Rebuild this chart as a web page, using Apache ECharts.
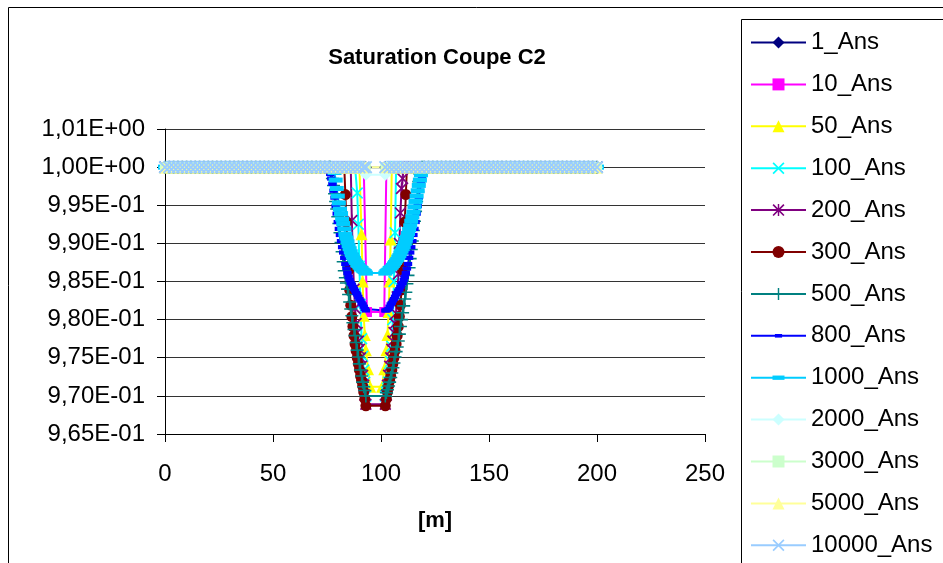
<!DOCTYPE html>
<html><head><meta charset="utf-8">
<script src="https://cdn.jsdelivr.net/npm/echarts@6/dist/echarts.min.js"></script>
<style>html,body{margin:0;padding:0;background:#fff}#c{width:943px;height:563px}</style>
</head><body><div id="c"></div>
<script>
const FONT = '"Liberation Sans", Arial, Helvetica, sans-serif';
const SAT_FULL = 1.0;
const Y_MIN = 0.965, Y_MAX = 1.005, Y_STEP = 0.005;
const X_MIN = 0, X_MAX = 250, X_STEP = 50;
const yTickLabels = ['9,65E-01','9,70E-01','9,75E-01','9,80E-01','9,85E-01','9,90E-01','9,95E-01','1,00E+00','1,01E+00'];
const seriesNames = ['1_Ans','10_Ans','50_Ans','100_Ans','200_Ans','300_Ans','500_Ans','800_Ans','1000_Ans','2000_Ans','3000_Ans','5000_Ans','10000_Ans'];

// x positions of the section where saturation is full (1.0)
const flatX = [0,2,4,6,8,10,12,14,16,18,20,22,24,26,28,30,32,34,36,38,40,42,44,46,48,50,52,54,56,58,60,62,64,66,68,70,72,74,76,78,80,82,84,86,88,90,92,93,
  102,104,106,108,110,112,114,116,118,120,122,124,126,128,130,132,134,136,138,140,142,144,146,148,150,152,154,156,158,160,162,164,166,168,170,172,174,176,178,180,182,184,186,188,190,192,194,196,198,200];

// desaturated zone values [x, saturation]
const v10 = [[92.5,1],[93.5,0.9810],[101.5,0.9810],[102.5,1]];
const v50 = [[90.5,1],[91,0.9912],[91.5,0.9850],[92,0.9805],[92.5,0.9780],[93,0.9760],[94,0.9735],[95,0.9712],
  [100.5,0.9712],[101.5,0.9735],[102.5,0.9760],[103,0.9780],[103.5,0.9810],[104,0.9850],[104.5,0.9905],[105,1]];
const v100 = [[88.5,1],[89,0.9966],[89.5,0.9925],[90,0.9870],[90.5,0.9820],[91,0.9775],[91.5,0.9752],[92,0.9734],[92.5,0.9718],[93,0.9700],
  [102,0.9700],[102.5,0.9705],[103,0.9710],[103.5,0.9718],[104,0.9730],[104.5,0.9745],[105,0.9765],[105.5,0.9800],[106,0.9850],[106.5,0.9914],[107,1]];
const v200 = [[86,1],[86.5,0.9930],[87,0.9880],[87.5,0.9840],[88,0.9815],[88.5,0.9795],[89,0.9783],[89.5,0.9772],[90,0.9761],[90.5,0.9750],[91,0.9739],[91.5,0.9727],[92,0.9714],[92.5,0.9701],[93,0.9689],
  [102,0.9689],[102.5,0.9701],[103,0.9714],[103.5,0.9727],[104,0.9739],[104.5,0.9750],[105,0.9761],[105.5,0.9772],[106,0.9783],[106.5,0.9795],[107,0.9808],[107.5,0.9830],[108,0.9860],[108.5,0.9900],[109,0.9940],[109.5,0.9972],[110,0.9985],[110.5,1]];
const v300 = [[83,1],[83.5,0.9964],[84,0.9928],[84.5,0.9894],[85,0.9865],[85.5,0.9839],[86,0.9819],[86.5,0.9804],[87,0.9791],[87.5,0.9779],[88,0.9768],[88.5,0.9759],[89,0.9750],[89.5,0.9742],[90,0.9734],[90.5,0.9726],[91,0.9720],[91.5,0.9713],[92,0.9705],[92.5,0.9696],[93,0.9687],
  [102,0.9687],[102.5,0.9696],[103,0.9705],[103.5,0.9713],[104,0.9720],[104.5,0.9726],[105,0.9734],[105.5,0.9742],[106,0.9750],[106.5,0.9759],[107,0.9768],[107.5,0.9779],[108,0.9791],[108.5,0.9804],[109,0.9819],[109.5,0.9839],[110,0.9865],[110.5,0.9894],[111,0.9928],[111.5,0.9964],[112,1]];
const v500 = [[76.5,1],[77,0.9995],[77.5,0.9985],[78,0.9976],[78.5,0.9965],[79,0.9955],[79.5,0.9945],[80,0.9935],[80.5,0.9926],[81,0.9914],[81.5,0.9901],[82,0.9889],[82.5,0.9876],[83,0.9864],[83.5,0.9855],[84,0.9848],[84.5,0.9840],[85,0.9833],[85.5,0.9823],[86,0.9814],[86.5,0.9805],[87,0.9796],[87.5,0.9787],[88,0.9779],[88.5,0.9770],[89,0.9760],[89.5,0.9751],[90,0.9742],[90.5,0.9734],[91,0.9726],[91.5,0.9718],[92,0.9712],[92.5,0.9707],[93,0.9700],
  [102,0.9700],[102.5,0.9704],[103,0.9708],[103.5,0.9713],[104,0.9718],[104.5,0.9724],[105,0.9730],[105.5,0.9737],[106,0.9743],[106.5,0.9751],[107,0.9758],[107.5,0.9764],[108,0.9772],[108.5,0.9781],[109,0.9791],[109.5,0.9800],[110,0.9809],[110.5,0.9818],[111,0.9827],[111.5,0.9836],[112,0.9847],[112.5,0.9858],[113,0.9868],[113.5,0.9880],[114,0.9892],[114.5,0.9903],[115,0.9917],[115.5,0.9929],[116,0.9942],[116.5,0.9955],[117,0.9968],[117.5,0.9981],[118,0.9991],[118.5,0.9998],[119,1]];
const v800 = [[75,1],[76,0.9997],[76.5,0.9991],[77,0.9985],[77.5,0.9978],[78,0.9969],[78.5,0.9960],[79,0.9949],[79.5,0.9939],[80,0.9928],[80.5,0.9919],[81,0.9911],[81.5,0.9903],[82,0.9895],[82.5,0.9888],[83,0.9881],[83.5,0.9873],[84,0.9867],[84.5,0.9861],[85,0.9856],[85.5,0.9852],[86,0.9848],[86.5,0.9846],[87,0.9843],[87.5,0.9840],[88,0.9838],[88.5,0.9835],[89,0.9833],[89.5,0.9830],[90,0.9827],[90.5,0.9825],[91,0.9822],[91.5,0.9820],[92,0.9817],[92.5,0.9814],[93,0.9812],
  [102,0.9812],[102.5,0.9812],[103,0.9813],[103.5,0.9814],[104,0.9817],[104.5,0.9820],[105,0.9822],[105.5,0.9825],[106,0.9827],[106.5,0.9830],[107,0.9833],[107.5,0.9835],[108,0.9838],[108.5,0.9840],[109,0.9843],[109.5,0.9846],[110,0.9848],[110.5,0.9852],[111,0.9856],[111.5,0.9861],[112,0.9867],[112.5,0.9873],[113,0.9881],[113.5,0.9888],[114,0.9895],[114.5,0.9903],[115,0.9911],[115.5,0.9919],[116,0.9928],[116.5,0.9939],[117,0.9949],[117.5,0.9960],[118,0.9969],[118.5,0.9978],[119,0.9985],[120,1]];
const v1000 = [[77.5,1],[78,0.9998],[78.5,0.9993],[79,0.9983],[79.5,0.9972],[80,0.9962],[80.5,0.9953],[81,0.9945],[81.5,0.9939],[82,0.9932],[82.5,0.9926],[83,0.9919],[83.5,0.9912],[84,0.9907],[84.5,0.9902],[85,0.9897],[85.5,0.9893],[86,0.9889],[86.5,0.9885],[87,0.9882],[87.5,0.9880],[88,0.9877],[88.5,0.9875],[89,0.9872],[89.5,0.9871],[90,0.9869],[90.5,0.9868],[91,0.9867],[91.5,0.9865],[92,0.9864],[92.5,0.9863],[93,0.9861],
  [102,0.9861],[102.5,0.9863],[103,0.9864],[103.5,0.9865],[104,0.9867],[104.5,0.9868],[105,0.9869],[105.5,0.9871],[106,0.9873],[106.5,0.9875],[107,0.9877],[107.5,0.9879],[108,0.9882],[108.5,0.9884],[109,0.9887],[109.5,0.9890],[110,0.9893],[110.5,0.9896],[111,0.9900],[111.5,0.9904],[112,0.9908],[112.5,0.9913],[113,0.9918],[113.5,0.9923],[114,0.9929],[114.5,0.9935],[115,0.9941],[115.5,0.9948],[116,0.9955],[116.5,0.9962],[117,0.9969],[117.5,0.9976],[118,0.9983],[118.5,0.9990],[119,0.9995],[120,1]];
const v2000 = [[92,1],[93,0.9990],[102,0.9990],[102.5,1]];
const GAP_10000 = 97.5; // no 10000_Ans points in the centre of the section

const SYM_X = 'path://M0,1L1,0L10,9L9,10ZM9,0L10,1L1,10L0,9Z';
const SYM_STAR = 'path://M0,1L1,0L10,9L9,10ZM9,0L10,1L1,10L0,9ZM4.4,0L5.6,0L5.6,10L4.4,10Z';
const SYM_PLUS = 'path://M0,4.4L10,4.4L10,5.6L0,5.6ZM4.4,0L5.6,0L5.6,10L4.4,10Z';
const SYM_DASH_S = 'path://M0,0L0,0M2,3.5L8,3.5L8,6.5L2,6.5ZM10,10L10,10';
const SYM_DASH_L = 'path://M0,0L0,0M0,3.2L10,3.2L10,6.8L0,6.8ZM10,10L10,10';

const styles = {
  '1_Ans':     {color:'#000080', symbol:'diamond', size:12, v:null},
  '10_Ans':    {color:'#FF00FF', symbol:'rect', size:10, v:v10},
  '50_Ans':    {color:'#FFFF00', symbol:'triangle', size:12, v:v50},
  '100_Ans':   {color:'#00FFFF', symbol:SYM_X, size:12, v:v100},
  '200_Ans':   {color:'#800080', symbol:SYM_STAR, size:12, v:v200},
  '300_Ans':   {color:'#800000', symbol:'circle', size:11, v:v300},
  '500_Ans':   {color:'#008080', symbol:SYM_PLUS, size:13, v:v500},
  '800_Ans':   {color:'#0000FF', symbol:SYM_DASH_S, size:14, v:v800},
  '1000_Ans':  {color:'#00CCFF', symbol:SYM_DASH_L, size:14, v:v1000},
  '2000_Ans':  {color:'#CCFFFF', symbol:'diamond', size:12, v:v2000},
  '3000_Ans':  {color:'#CCFFCC', symbol:'rect', size:10, v:null},
  '5000_Ans':  {color:'#FFFF99', symbol:'triangle', size:12, v:null},
  '10000_Ans': {color:'#99CCFF', symbol:SYM_X, size:13, v:null, band:true}
};

function build(v, band) {
  if (!v) {
    const pts = [];
    flatX.forEach(x => {
      if (band && x > GAP_10000 && pts.length && pts[pts.length-1][0] < GAP_10000) pts.push([GAP_10000, '-']);
      pts.push([x, SAT_FULL]);
    });
    return pts;
  }
  const x0 = v[0][0], x1 = v[v.length-1][0];
  return flatX.filter(x => x < x0).map(x => [x, SAT_FULL])
    .concat(v)
    .concat(flatX.filter(x => x > x1).map(x => [x, SAT_FULL]));
}

const series = seriesNames.map(name => {
  const s = styles[name];
  return {
    name, type:'line', data: build(s.v, s.band),
    symbol: s.symbol, symbolSize: s.size, showSymbol:true, clip:false,
    lineStyle:{color:s.color, width: s.band ? 13 : 2},
    itemStyle:{color:s.color, borderWidth:0},
    emphasis:{disabled:true}, animation:false
  };
});

const chart = echarts.init(document.getElementById('c'));
chart.setOption({
  animation:false,
  backgroundColor:'#fff',
  textStyle:{fontFamily:FONT},
  grid:{left:165, top:129, width:540, height:305, containLabel:false, outerBoundsMode:'none'},
  xAxis:{type:'value', min:X_MIN, max:X_MAX, interval:X_STEP,
    name:'[m]', nameLocation:'middle', nameGap:76,
    nameTextStyle:{fontFamily:FONT, fontSize:22, fontWeight:'bold', color:'#000'},
    axisLine:{show:true, onZero:false, lineStyle:{color:'#000', width:1}},
    axisTick:{show:true, length:8, inside:false, lineStyle:{color:'#000'}},
    axisLabel:{fontFamily:FONT, fontSize:24, color:'#000', margin:28},
    splitLine:{show:false}},
  yAxis:{type:'value', min:Y_MIN, max:Y_MAX, interval:Y_STEP,
    axisLine:{show:true, onZero:false, lineStyle:{color:'#000', width:1}},
    axisTick:{show:true, length:8, inside:false, lineStyle:{color:'#000'}},
    axisLabel:{fontFamily:FONT, fontSize:24, color:'#000', margin:20,
      formatter: v => yTickLabels[Math.round((v - Y_MIN) / Y_STEP)]},
    splitLine:{show:true, lineStyle:{color:'#333', width:1}}},
  legend:{orient:'vertical', left:750, top:30.5, padding:0, itemGap:17.9,
    itemWidth:55, itemHeight:15,
    textStyle:{fontFamily:FONT, fontSize:24, color:'#000', lineHeight:24},
    data: seriesNames.map(n => ({name:n, lineStyle:{width:2}})),
    selectedMode:false},
  graphic:[
    {type:'rect', silent:true, z:-1, shape:{x:8.5, y:7.5, width:1100, height:700}, style:{fill:'none', stroke:'#000', lineWidth:1}},
    {type:'rect', silent:true, z:-1, shape:{x:741.5, y:19.5, width:400, height:700}, style:{fill:'none', stroke:'#000', lineWidth:1}},
    {type:'text', silent:true, style:{text:'Saturation Coupe C2', x:437, y:58, align:'center', verticalAlign:'middle',
      fontFamily:FONT, fontSize:22, fontWeight:'bold', fill:'#000'}}
  ],
  series
});
</script></body></html>
